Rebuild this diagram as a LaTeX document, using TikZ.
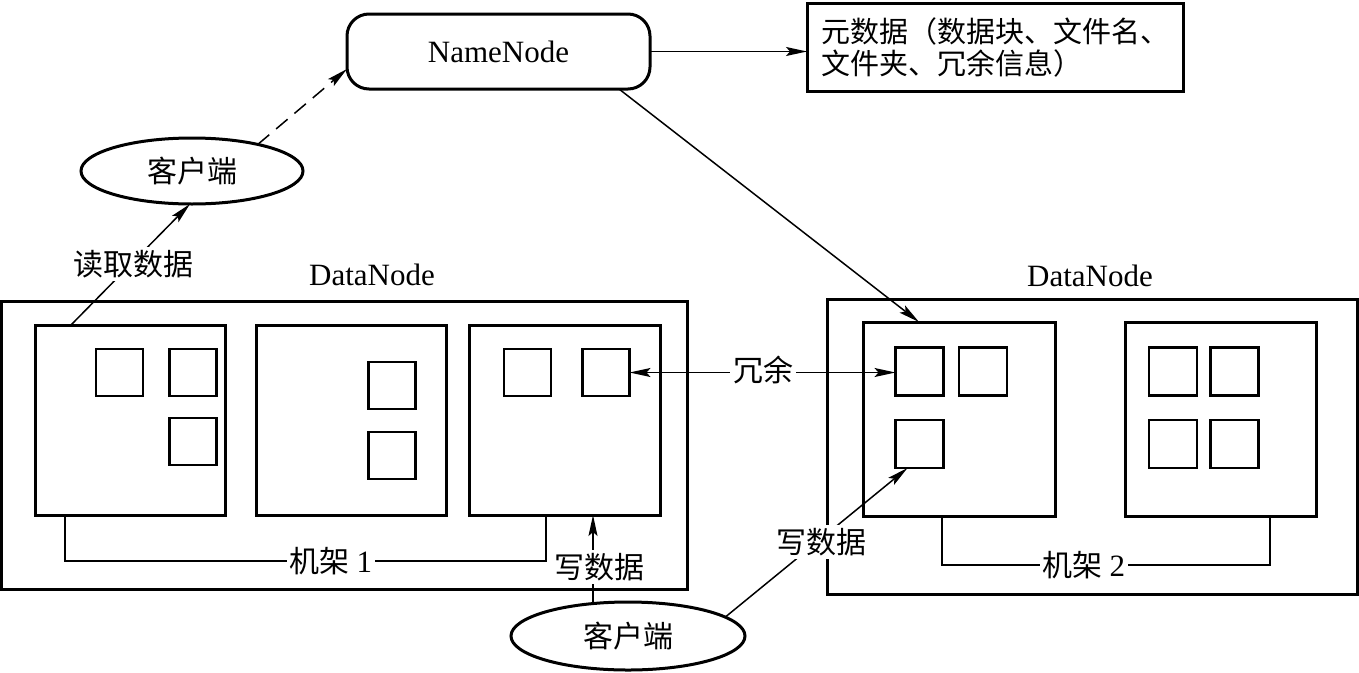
\documentclass[tikz,border=0pt]{standalone}
\usepackage{fontspec}
\setmainfont{Liberation Serif}
\newfontfamily\cjk{Noto Sans CJK SC}
\usetikzlibrary{arrows.meta,calc,shapes.geometric}
\newcommand\zhf{\cjk\fontsize{30}{34}\selectfont}
\newcommand\latf{\rmfamily\fontsize{31}{36}\selectfont}
\begin{document}
\begin{tikzpicture}[x=1pt,y=-1pt,
  box/.style={draw, line width=3pt, inner sep=0pt, outer sep=0pt},
  inner/.style={box, minimum width=191pt, minimum height=192pt},
  sq/.style={box, line width=2.8pt, minimum width=47pt, minimum height=47pt},
  ell/.style={draw, ellipse, line width=3pt, inner sep=0pt, outer sep=0pt, font=\zhf},
  conn/.style={line width=1.5pt},
  arr/.style={conn, -{Stealth[length=21pt,width=9pt,inset=4pt]}},
  darr/.style={conn, {Stealth[length=21pt,width=9pt,inset=4pt]}-{Stealth[length=21pt,width=9pt,inset=4pt]}},
  lbl/.style={fill=white, inner sep=3pt, font=\zhf},
  dnlabel/.style={inner sep=0pt, font=\latf}]
\useasboundingbox (0,0) rectangle (1359,672);
\fill[white] (0,0) rectangle (1359,672);

% NameNode and metadata
\node[box, rounded corners=22pt, minimum width=303pt, minimum height=75pt, font=\latf] (nn) at (498.5,51.5) {NameNode};
\node[box, minimum width=376pt, minimum height=88pt, align=left, font={\cjk\fontsize{29}{32}\selectfont}] (meta) at (995,47) {元数据（数据块、文件名、\\文件夹、冗余信息）};

% clients
\node[ell, minimum width=222pt, minimum height=66pt] (cl1) at (192,171) {客户端};
\node[ell, minimum width=234pt, minimum height=68pt] (cl2) at (628,636) {客户端};

% DataNode outer boxes
\node[box, minimum width=686pt, minimum height=288pt] (dn1) at (344,445) {};
\node[box, minimum width=530pt, minimum height=295pt] (dn2) at (1092,446.5) {};
\node[dnlabel] (dnl1) at (372,275) {DataNode};
\node[dnlabel] (dnl2) at (1090,276) {DataNode};

% machines
\node[inner, minimum width=190pt, minimum height=190pt] (A) at (130,420) {};
\node[inner, minimum width=190pt, minimum height=190pt] (B) at (351,420) {};
\node[inner, minimum width=191pt, minimum height=190pt] (C) at (564.5,420) {};
\node[inner, minimum width=192pt, minimum height=194pt] (D) at (959,419) {};
\node[inner, minimum width=191pt, minimum height=194pt] (E) at (1220.5,419) {};

% blocks
\node[sq] (a1) at (119.5,372.5) {};
\node[sq] (a2) at (193,372.5) {};
\node[sq] (a3) at (193,441.5) {};
\node[sq] (b1) at (392,385.5) {};
\node[sq] (b2) at (392,455.5) {};
\node[sq] (c1) at (527.5,372.5) {};
\node[sq] (c2) at (606,372.5) {};
\node[sq, minimum width=48pt, minimum height=48pt] (d1) at (919.5,371.5) {};
\node[sq, minimum width=48pt, minimum height=48pt] (d2) at (983,371.5) {};
\node[sq, minimum width=48pt, minimum height=48pt] (d3) at (919.5,444) {};
\node[sq, minimum width=48pt, minimum height=48pt] (e1) at (1173,371.5) {};
\node[sq, minimum width=48pt, minimum height=48pt] (e2) at (1234.5,371.5) {};
\node[sq, minimum width=48pt, minimum height=48pt] (e3) at (1173,444) {};
\node[sq, minimum width=48pt, minimum height=48pt] (e4) at (1234.5,444) {};

% connectors
\draw[arr] (nn.east) -- (nn.east -| meta.west);
\draw[arr] ($(nn.south east)+(-31,0)$) -- ($(D.north west)+(56,0)$);
\draw[arr, dash pattern=on 15pt off 9pt] (cl1.22) -- ($(nn.west)+(0,17.5)$);
\draw[arr] ($(A.north west)+(36,0)$) -- ($(cl1.south)+(-2,0)$);
\draw[arr] ($(C.south west)+(124,88)$) coordinate (w1a) -- ($(C.south west)+(124,0)$);
\draw[arr] (cl2.11) -- ($(d3.south west)+(12,0)$);
\draw[darr] (c2.east) -- (c2.east -| d1.west);
\draw[conn] ($(A.south west)+(30,0)$) -- ++(0,46) -| ($(C.south west)+(77,0)$);
\draw[conn] ($(D.south west)+(79,0)$) -- ++(0,49) -| ($(E.south west)+(145,0)$);

% labels
\node[lbl] (l1) at (133,264) {读取数据};
\node[lbl] (l2) at (599,567) {写数据};
\node[lbl] (l3) at (821,542) {写数据};
\node[lbl] (l4) at (763,370) {冗余};
\node[lbl] (r1) at (331,561) {机架 {\latf 1}};
\node[lbl] (r2) at (1084,565) {机架 {\latf 2}};
\end{tikzpicture}
\end{document}
